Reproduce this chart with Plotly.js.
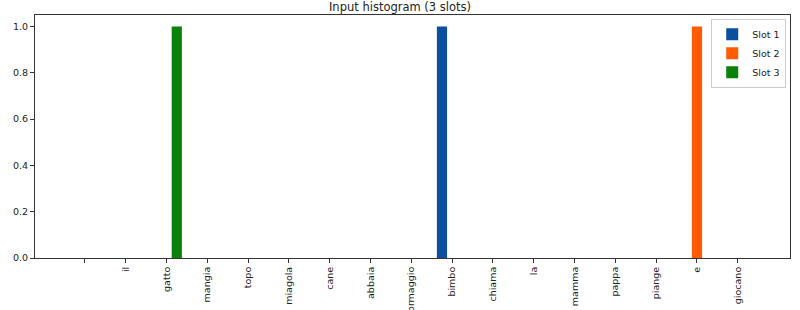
<!DOCTYPE html>
<html>
<head>
<meta charset="utf-8">
<script src="https://cdn.plot.ly/plotly-3.0.1.min.js"></script>
<style>html,body{margin:0;padding:0;background:#fff;}#chart{width:800px;height:310px;}</style>
</head>
<body>
<div id="chart"></div>
<script>
const words = ["", "il", "gatto", "mangia", "topo", "miagola", "cane", "abbaia", "formaggio", "bimbo", "chiama", "la", "mamma", "pappa", "piange", "e", "giocano"];
const slot1 = [0,0,0,0,0,0,0,0,0,1,0,0,0,0,0,0,0];
const slot2 = [0,0,0,0,0,0,0,0,0,0,0,0,0,0,0,1,0];
const slot3 = [0,0,1,0,0,0,0,0,0,0,0,0,0,0,0,0,0];
const seriesNames = ["Slot 1", "Slot 2", "Slot 3"];
const colors = ["#0b4f9e", "#fe5b02", "#0b800b"];

const idx = words.map((w, i) => i);
const series = [slot1, slot2, slot3];
const traces = series.map((vals, k) => ({
  type: 'bar',
  x: idx,
  y: vals,
  name: seriesNames[k],
  marker: {color: colors[k], line: {width: 0}},
  hoverinfo: 'x+y+name'
}));

const layout = {
  width: 800, height: 310,
  margin: {l: 35, r: 10, t: 15, b: 52},
  paper_bgcolor: '#fff', plot_bgcolor: '#fff',
  font: {family: 'DejaVu Sans, sans-serif', size: 10, color: '#222'},
  title: {text: 'Input histogram (3 slots)', x: 0.5, xanchor: 'center', y: 0.99, yanchor: 'top', font: {size: 11.5, color: '#222'}},
  barmode: 'group', bargap: 0.25, bargroupgap: 0,
  showlegend: true,
  legend: {x: 0.995, xanchor: 'right', y: 0.985, yanchor: 'top', bordercolor: '#cccccc', borderwidth: 1, bgcolor: 'rgba(255,255,255,0.9)', font: {size: 9.5}, tracegroupgap: 0, itemwidth: 30},
  xaxis: {
    range: [-1.225, 17.28], tickmode: 'array', tickvals: idx, ticktext: words,
    tickangle: -90, ticks: 'outside', ticklen: 4, tickcolor: '#333', tickwidth: 1,
    showgrid: false, zeroline: false, showline: true, linecolor: '#333', linewidth: 1, mirror: true,
    tickfont: {size: 9.5, color: '#222'}
  },
  yaxis: {
    range: [0, 1.05], tickmode: 'array', tickvals: [0, 0.2, 0.4, 0.6, 0.8, 1.0],
    ticktext: ['0.0', '0.2', '0.4', '0.6', '0.8', '1.0'],
    ticks: 'outside', ticklen: 4, tickcolor: '#333', tickwidth: 1,
    showgrid: false, zeroline: false, showline: true, linecolor: '#333', linewidth: 1, mirror: true,
    tickfont: {size: 9.5, color: '#222'}
  }
};

Plotly.newPlot('chart', traces, layout, {displayModeBar: false, staticPlot: true});
</script>
</body>
</html>
